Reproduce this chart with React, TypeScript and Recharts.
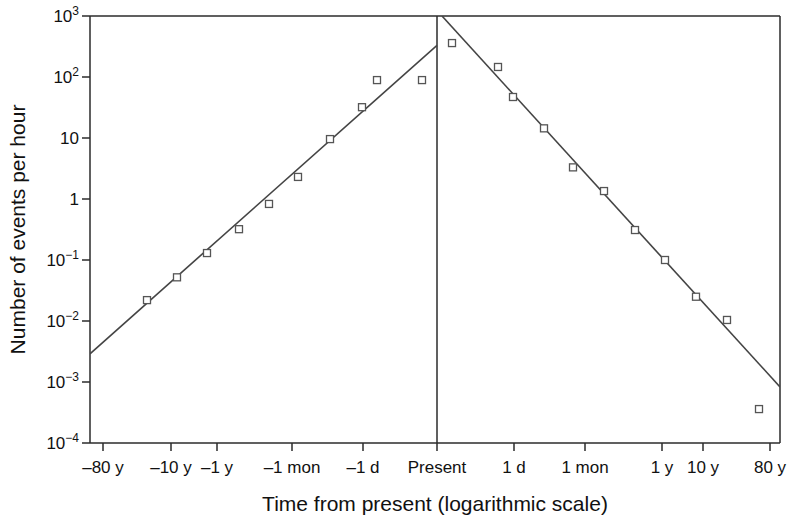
import { ComposedChart, Scatter, XAxis, YAxis, ReferenceLine } from 'recharts';

// x positions are in arbitrary axis units (the original axis is non-uniform)
const xTicks = [13, 81, 127, 202, 273, 347, 424, 495, 572, 613, 680];
const xTickLabels = ['–80 y', '–10 y', '–1 y', '–1 mon', '–1 d', 'Present', '1 d', '1 mon', '1 y', '10 y', '80 y'];

const yTicks = [1e-4, 1e-3, 1e-2, 1e-1, 1, 10, 100, 1000];
const yTickBases = ['10', '10', '10', '10', '1', '10', '10', '10'];
const yTickExps = ['−4', '−3', '−2', '−1', '', '', '2', '3'];

const beforeX = [57, 87, 117, 149, 179, 208, 240, 272, 287, 332];
const beforeY = [0.022, 0.052, 0.13, 0.32, 0.83, 2.3, 9.6, 32, 89, 89];

const afterX = [362, 408, 423, 454, 483, 514, 545, 575, 606, 637, 669];
const afterY = [360, 146, 47, 14.4, 3.3, 1.35, 0.31, 0.1, 0.025, 0.0104, 0.00036];

const fitBeforeX = [0, 347];
const fitBeforeY = [0.0029, 330];
const fitAfterX = [352, 690];
const fitAfterY = [1000, 0.00083];

const zip = (xs: number[], ys: number[]) => xs.map((x, i) => ({ x, y: ys[i] }));

const points = [...zip(beforeX, beforeY), ...zip(afterX, afterY)];
const fitBefore = zip(fitBeforeX, fitBeforeY);
const fitAfter = zip(fitAfterX, fitAfterY);

const FONT = '"Liberation Sans", Arial, Helvetica, sans-serif';
const INK = '#2b2b2b';

const Square = (props: any) => {
    const { cx, cy } = props;
    if (cx == null || cy == null) return null;
    return <rect x={cx - 3.5} y={cy - 3.5} width={7} height={7} fill="#fff" stroke="#555" strokeWidth={1.3} />;
};

const NoShape = () => null;

const YTick = (props: any) => {
    const { x, y, payload } = props;
    const i = yTicks.indexOf(payload.value);
    const base = yTickBases[i] ?? '';
    const exp = yTickExps[i] ?? '';
    return (
        <text x={x} y={y} dy={6} textAnchor="end" fill="#111" fontSize={17} fontFamily={FONT}>
            <tspan>{base}</tspan>
            {exp && <tspan dy={-7} fontSize={12}>{exp}</tspan>}
        </text>
    );
};

export default function App() {
    return (
        <div style={{ position: 'absolute', left: 0, top: 0, background: '#fff' }}>
            <ComposedChart width={791} height={517} margin={{ top: 16, right: 11, bottom: 0, left: 0 }}>
                <XAxis
                    type="number"
                    dataKey="x"
                    domain={[0, 690]}
                    ticks={xTicks}
                    tickFormatter={(v: number) => xTickLabels[xTicks.indexOf(v)] ?? ''}
                    height={74}
                    tickSize={8}
                    tickMargin={10}
                    tick={{ fill: '#111', fontSize: 17, fontFamily: FONT }}
                    stroke={INK}
                    strokeWidth={1.5}
                    interval={0}
                    allowDataOverflow
                    label={{
                        value: 'Time from present (logarithmic scale)',
                        position: 'insideBottom',
                        offset: 6,
                        style: { fill: '#111', fontSize: 21, fontFamily: FONT },
                    }}
                />
                <YAxis
                    type="number"
                    dataKey="y"
                    scale="log"
                    domain={[1e-4, 1000]}
                    ticks={yTicks}
                    allowDataOverflow
                    width={90}
                    tickSize={8}
                    tickMargin={3}
                    tick={<YTick />}
                    stroke={INK}
                    strokeWidth={1.5}
                    interval={0}
                    label={{
                        value: 'Number of events per hour',
                        angle: -90,
                        position: 'insideLeft',
                        offset: 18,
                        style: { textAnchor: 'middle', fill: '#111', fontSize: 21, fontFamily: FONT },
                    }}
                />
                <ReferenceLine y={1000} stroke={INK} strokeWidth={1.5} />
                <ReferenceLine x={690} stroke={INK} strokeWidth={1.5} />
                <ReferenceLine x={347} stroke={INK} strokeWidth={1.5} />
                <Scatter data={fitBefore} line={{ stroke: '#444', strokeWidth: 1.6 }} shape={NoShape} isAnimationActive={false} />
                <Scatter data={fitAfter} line={{ stroke: '#444', strokeWidth: 1.6 }} shape={NoShape} isAnimationActive={false} />
                <Scatter data={points} shape={Square} isAnimationActive={false} />
            </ComposedChart>
        </div>
    );
}
